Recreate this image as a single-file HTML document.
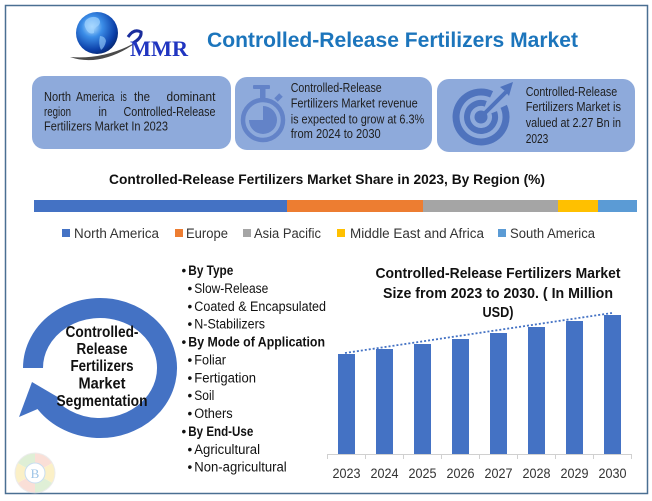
<!DOCTYPE html>
<html><head><meta charset="utf-8">
<style>
html,body{margin:0;padding:0;background:#fff;}
svg{display:block;}
text{font-family:"Liberation Sans",Arial,sans-serif;}
</style></head>
<body>
<svg width="652" height="501" viewBox="0 0 652 501" xmlns="http://www.w3.org/2000/svg">
<defs>
<radialGradient id="glb" cx="0.38" cy="0.35" r="0.7">
<stop offset="0" stop-color="#bfe6ff"/>
<stop offset="0.35" stop-color="#3c8ee8"/>
<stop offset="0.8" stop-color="#0b3fa8"/>
<stop offset="1" stop-color="#06266e"/>
</radialGradient>
</defs>
<rect x="0" y="0" width="652" height="501" fill="#fff"/>
<rect x="5.5" y="5.5" width="642" height="488" fill="none" stroke="#4a6f92" stroke-width="1.5"/>

<!-- Logo -->
<path d="M70,57 Q102,68 140,40 Q106,60 70,57 Z" fill="#4a4a4a"/>
<circle cx="97" cy="33" r="21" fill="url(#glb)"/>
<path d="M86,20 q6,-5 12,-2 q4,4 0,8 q-5,2 -4,7 q-5,2 -8,-4 q-3,-5 0,-9z" fill="#9fd3ff" opacity="0.7"/>
<path d="M100,36 q5,0 6,5 q-1,6 -5,9 q-3,-6 -1,-14z" fill="#9fd3ff" opacity="0.6"/>
<path d="M128,37 Q134,28 141,32 Q142,38 133,43" fill="none" stroke="#1a2d9c" stroke-width="3"/>
<text x="130" y="56" font-weight="bold" font-size="22" fill="#2035c0" textLength="58" lengthAdjust="spacingAndGlyphs" style="font-family:'Liberation Serif',serif">MMR</text>

<!-- Title -->
<text x="207" y="47" font-weight="bold" font-size="21" fill="#1c75bc" textLength="371" lengthAdjust="spacingAndGlyphs">Controlled-Release Fertilizers Market</text>

<!-- Boxes -->
<rect x="32" y="76" width="199" height="73" rx="12" fill="#8eaadb"/>
<rect x="235" y="77" width="197" height="73" rx="12" fill="#8eaadb"/>
<rect x="437" y="79" width="198" height="73" rx="12" fill="#8eaadb"/>

<g font-size="12.8" fill="#1e1e1e">
<text x="44" y="101" textLength="27" lengthAdjust="spacingAndGlyphs">North</text>
<text x="76" y="101" textLength="38.5" lengthAdjust="spacingAndGlyphs">America</text>
<text x="120.6" y="101" textLength="6.2" lengthAdjust="spacingAndGlyphs">is</text>
<text x="134" y="101" textLength="16" lengthAdjust="spacingAndGlyphs">the</text>
<text x="166.5" y="101" textLength="49" lengthAdjust="spacingAndGlyphs">dominant</text>
<text x="44" y="116" textLength="27" lengthAdjust="spacingAndGlyphs">region</text>
<text x="98.5" y="116" textLength="8.5" lengthAdjust="spacingAndGlyphs">in</text>
<text x="123.5" y="116" textLength="92" lengthAdjust="spacingAndGlyphs">Controlled-Release</text>
<text x="44" y="130.5" textLength="124" lengthAdjust="spacingAndGlyphs">Fertilizers Market In 2023</text>

<text x="290.7" y="92" textLength="91" lengthAdjust="spacingAndGlyphs">Controlled-Release</text>
<text x="290.7" y="107.5" textLength="127" lengthAdjust="spacingAndGlyphs">Fertilizers Market revenue</text>
<text x="290.7" y="123.5" textLength="133.5" lengthAdjust="spacingAndGlyphs">is expected to grow at 6.3%</text>
<text x="290.7" y="138" textLength="90" lengthAdjust="spacingAndGlyphs">from 2024 to 2030</text>

<text x="525.7" y="96" textLength="91.5" lengthAdjust="spacingAndGlyphs">Controlled-Release</text>
<text x="525.7" y="111" textLength="95.3" lengthAdjust="spacingAndGlyphs">Fertilizers Market is</text>
<text x="525.7" y="127" textLength="95.3" lengthAdjust="spacingAndGlyphs">valued at 2.27 Bn in</text>
<text x="525.7" y="143" textLength="22.6" lengthAdjust="spacingAndGlyphs">2023</text>
</g>

<!-- Stopwatch icon -->
<g fill="#6383c8" stroke="none">
<rect x="253" y="85" width="17" height="4" rx="1"/>
<rect x="260" y="88" width="5.5" height="10"/>
<rect x="276" y="94" width="5" height="7" transform="rotate(45 278.5 97.5)"/>
<circle cx="263" cy="120" r="20" fill="none" stroke="#6383c8" stroke-width="4.5"/>
<path d="M263,120 L263,106 A14,14 0 1,1 249,120 Z"/>
</g>

<!-- Target icon -->
<g stroke="#4f73bd" fill="none">
<path d="M503.7,106.4 A25,25 0 1,1 491.6,94.3" stroke-width="7"/>
<path d="M494.2,112.2 A14,14 0 1,1 485.8,103.8" stroke-width="6"/>
<line x1="481" y1="117" x2="506" y2="92" stroke-width="4"/>
</g>
<circle cx="481" cy="117" r="6.5" fill="#4f73bd"/>
<polygon points="500,87 513,82 509,96 505,91" fill="#4f73bd"/>

<!-- Subtitle -->
<text x="109" y="184" font-weight="bold" font-size="14" fill="#111" textLength="436" lengthAdjust="spacingAndGlyphs">Controlled-Release Fertilizers Market Share in 2023, By Region (%)</text>

<!-- Share bar -->
<rect x="34" y="200" width="253" height="12" fill="#4472c4"/>
<rect x="287" y="200" width="136" height="12" fill="#ed7d31"/>
<rect x="423" y="200" width="135" height="12" fill="#a5a5a5"/>
<rect x="558" y="200" width="40" height="12" fill="#ffc000"/>
<rect x="598" y="200" width="39" height="12" fill="#5b9bd5"/>

<!-- Legend -->
<g font-size="13.5" fill="#333">
<rect x="62" y="229" width="8" height="8" fill="#4472c4"/>
<text x="74" y="238" textLength="85" lengthAdjust="spacingAndGlyphs">North America</text>
<rect x="175" y="229" width="8" height="8" fill="#ed7d31"/>
<text x="186" y="238" textLength="42" lengthAdjust="spacingAndGlyphs">Europe</text>
<rect x="243" y="229" width="8" height="8" fill="#a5a5a5"/>
<text x="254" y="238" textLength="67" lengthAdjust="spacingAndGlyphs">Asia Pacific</text>
<rect x="337" y="229" width="8" height="8" fill="#ffc000"/>
<text x="350" y="238" textLength="134" lengthAdjust="spacingAndGlyphs">Middle East and Africa</text>
<rect x="498" y="229" width="8" height="8" fill="#5b9bd5"/>
<text x="510" y="238" textLength="85" lengthAdjust="spacingAndGlyphs">South America</text>
</g>

<!-- Circular arrow -->
<path d="M33,368 A67,60 0 1,1 43.8,400.7" fill="none" stroke="#4472c4" stroke-width="20"/>
<polygon points="32,382 19,417 61,399" fill="#4472c4"/>

<g font-weight="bold" font-size="16" fill="#111" text-anchor="middle">
<text x="102" y="337" textLength="73" lengthAdjust="spacingAndGlyphs">Controlled-</text>
<text x="102" y="354" textLength="51" lengthAdjust="spacingAndGlyphs">Release</text>
<text x="102" y="371" textLength="63" lengthAdjust="spacingAndGlyphs">Fertilizers</text>
<text x="102" y="388.5" textLength="47" lengthAdjust="spacingAndGlyphs">Market</text>
<text x="102" y="406" textLength="91" lengthAdjust="spacingAndGlyphs">Segmentation</text>
</g>

<!-- Segment list -->
<g font-size="13.5" fill="#111">
<text x="181.5" y="275">•</text>
<text x="188.3" y="275" font-weight="bold" textLength="45" lengthAdjust="spacingAndGlyphs">By Type</text>
<text x="187.5" y="292.9">•</text>
<text x="194.3" y="292.9" textLength="74" lengthAdjust="spacingAndGlyphs">Slow-Release</text>
<text x="187.5" y="310.8">•</text>
<text x="194.3" y="310.8" textLength="131.7" lengthAdjust="spacingAndGlyphs">Coated &amp; Encapsulated</text>
<text x="187.5" y="328.6">•</text>
<text x="194.3" y="328.6" textLength="70.7" lengthAdjust="spacingAndGlyphs">N-Stabilizers</text>
<text x="181.5" y="346.5">•</text>
<text x="188.3" y="346.5" font-weight="bold" textLength="136.7" lengthAdjust="spacingAndGlyphs">By Mode of Application</text>
<text x="187.5" y="364.4">•</text>
<text x="194.3" y="364.4" textLength="31.7" lengthAdjust="spacingAndGlyphs">Foliar</text>
<text x="187.5" y="382.3">•</text>
<text x="194.3" y="382.3" textLength="61.7" lengthAdjust="spacingAndGlyphs">Fertigation</text>
<text x="187.5" y="400.2">•</text>
<text x="194.3" y="400.2" textLength="20" lengthAdjust="spacingAndGlyphs">Soil</text>
<text x="187.5" y="418">•</text>
<text x="194.3" y="418" textLength="38.4" lengthAdjust="spacingAndGlyphs">Others</text>
<text x="181.5" y="435.9">•</text>
<text x="188.3" y="435.9" font-weight="bold" textLength="65" lengthAdjust="spacingAndGlyphs">By End-Use</text>
<text x="187.5" y="453.8">•</text>
<text x="194.3" y="453.8" textLength="65.7" lengthAdjust="spacingAndGlyphs">Agricultural</text>
<text x="187.5" y="471.7">•</text>
<text x="194.3" y="471.7" textLength="92.4" lengthAdjust="spacingAndGlyphs">Non-agricultural</text>
</g>

<!-- B logo -->
<g opacity="0.55">
<path d="M35,473 L35,453 A20,20 0 0,1 52.3,463 Z" fill="#f7c6b8"/>
<path d="M35,473 L52.3,463 A20,20 0 0,1 52.3,483 Z" fill="#f9e49a"/>
<path d="M35,473 L52.3,483 A20,20 0 0,1 35,493 Z" fill="#c5e3b5"/>
<path d="M35,473 L35,493 A20,20 0 0,1 17.7,483 Z" fill="#f7c6b8"/>
<path d="M35,473 L17.7,483 A20,20 0 0,1 17.7,463 Z" fill="#f9e49a"/>
<path d="M35,473 L17.7,463 A20,20 0 0,1 35,453 Z" fill="#c5e3b5"/>
<circle cx="35" cy="473" r="20" fill="none" stroke="#ddd" stroke-width="1"/>
<circle cx="35" cy="473" r="10" fill="#fff" stroke="#9cc3e6" stroke-width="1"/>
</g>
<text x="35" y="478" text-anchor="middle" font-size="13" fill="#9cc3e6" style="font-family:'Liberation Serif',serif">B</text>

<!-- Bar chart title -->
<g font-weight="bold" font-size="15" fill="#111" text-anchor="middle">
<text x="498" y="278" textLength="245" lengthAdjust="spacingAndGlyphs">Controlled-Release Fertilizers Market</text>
<text x="498" y="298" textLength="230" lengthAdjust="spacingAndGlyphs">Size from 2023 to 2030. ( In Million</text>
<text x="498" y="317" textLength="31" lengthAdjust="spacingAndGlyphs">USD)</text>
</g>

<!-- Bars -->
<g fill="#4472c4">
<rect x="338" y="354" width="17" height="100"/>
<rect x="376" y="349" width="17" height="105"/>
<rect x="414" y="344" width="17" height="110"/>
<rect x="452" y="339" width="17" height="115"/>
<rect x="490" y="333" width="17" height="121"/>
<rect x="528" y="327" width="17" height="127"/>
<rect x="566" y="321" width="17" height="133"/>
<rect x="604" y="315" width="17" height="139"/>
</g>
<line x1="345" y1="353" x2="612" y2="313" stroke="#4472c4" stroke-width="1.8" stroke-dasharray="2,2"/>

<!-- Axis -->
<g stroke="#d0d0d0" stroke-width="1">
<line x1="327" y1="454.5" x2="632" y2="454.5"/>
<line x1="327.5" y1="454" x2="327.5" y2="459"/>
<line x1="365.5" y1="454" x2="365.5" y2="459"/>
<line x1="403.5" y1="454" x2="403.5" y2="459"/>
<line x1="441.5" y1="454" x2="441.5" y2="459"/>
<line x1="479.5" y1="454" x2="479.5" y2="459"/>
<line x1="517.5" y1="454" x2="517.5" y2="459"/>
<line x1="555.5" y1="454" x2="555.5" y2="459"/>
<line x1="593.5" y1="454" x2="593.5" y2="459"/>
<line x1="631.5" y1="454" x2="631.5" y2="459"/>
</g>
<g font-size="14" fill="#333" text-anchor="middle">
<text x="346.5" y="478" textLength="28" lengthAdjust="spacingAndGlyphs">2023</text>
<text x="384.5" y="478" textLength="28" lengthAdjust="spacingAndGlyphs">2024</text>
<text x="422.5" y="478" textLength="28" lengthAdjust="spacingAndGlyphs">2025</text>
<text x="460.5" y="478" textLength="28" lengthAdjust="spacingAndGlyphs">2026</text>
<text x="498.5" y="478" textLength="28" lengthAdjust="spacingAndGlyphs">2027</text>
<text x="536.5" y="478" textLength="28" lengthAdjust="spacingAndGlyphs">2028</text>
<text x="574.5" y="478" textLength="28" lengthAdjust="spacingAndGlyphs">2029</text>
<text x="612.5" y="478" textLength="28" lengthAdjust="spacingAndGlyphs">2030</text>
</g>
</svg>
</body></html>
